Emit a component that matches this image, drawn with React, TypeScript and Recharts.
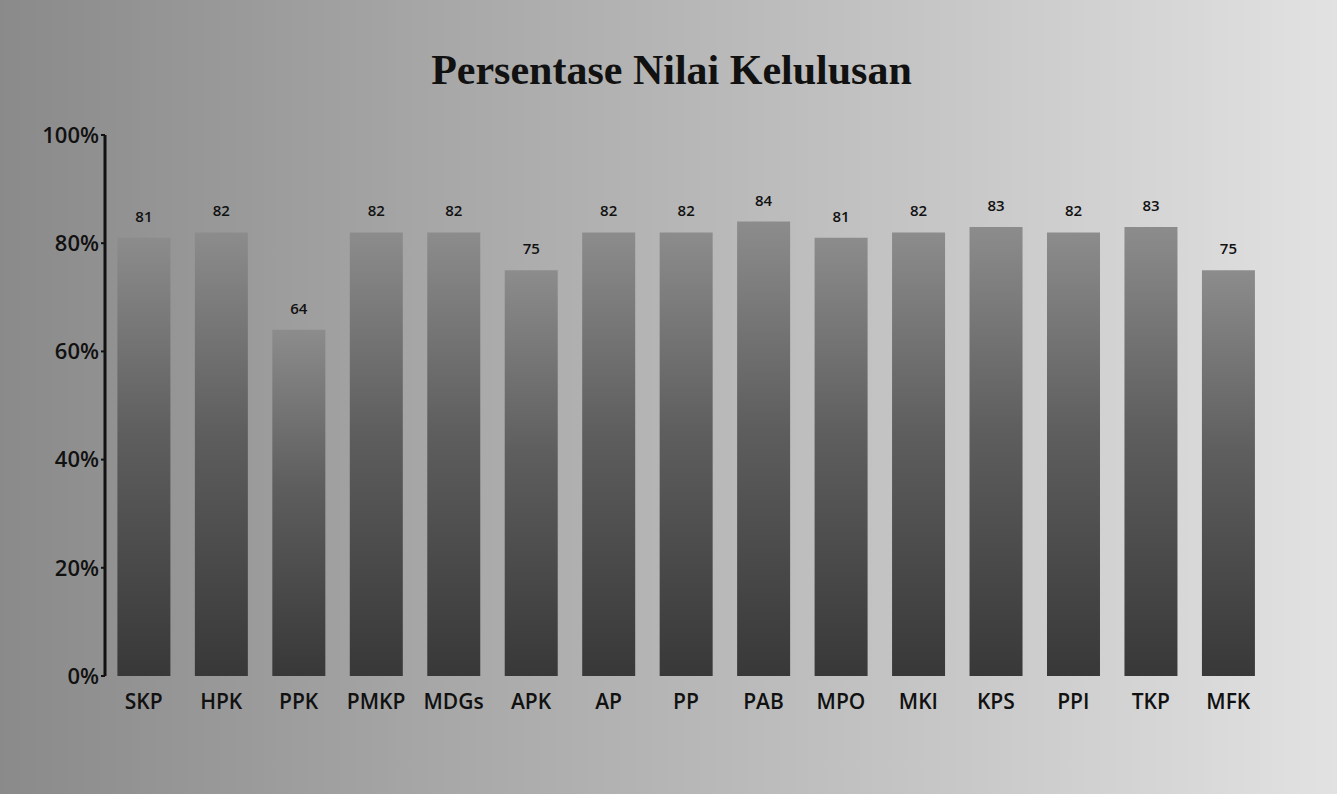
import { Bar, BarChart, LabelList, XAxis, YAxis } from "recharts";

const categories = ["SKP", "HPK", "PPK", "PMKP", "MDGs", "APK", "AP", "PP", "PAB", "MPO", "MKI", "KPS", "PPI", "TKP", "MFK"];
const values = [81, 82, 64, 82, 82, 75, 82, 82, 84, 81, 82, 83, 82, 83, 75];
const yTicks = [0, 20, 40, 60, 80, 100];

const data = categories.map((name, i) => ({ name, value: values[i] }));

const SANS = "'Open Sans', 'DejaVu Sans', sans-serif";

export default function App() {
  return (
    <div
      style={{
        position: "absolute",
        left: 0,
        top: 0,
        width: 1337,
        height: 794,
        background: "linear-gradient(90deg, #8a8a8a 0%, #a9a9a9 35%, #c6c6c6 70%, #e2e2e2 100%)",
        overflow: "hidden",
      }}
    >
      <div
        style={{
          position: "absolute",
          top: 46,
          left: 0,
          width: 1337,
          textAlign: "center",
          fontFamily: "'Liberation Serif', 'DejaVu Serif', serif",
          fontWeight: "bold",
          fontSize: 42,
          color: "#111",
          paddingLeft: 6,
          boxSizing: "border-box",
        }}
      >
        Persentase Nilai Kelulusan
      </div>
      <BarChart
        width={1337}
        height={794}
        data={data}
        margin={{ top: 135, right: 70, left: 30, bottom: 88 }}
        barCategoryGap="16%"
      >
        <defs>
          <linearGradient id="barFill" x1="0" y1="0" x2="0" y2="1">
            <stop offset="0%" stopColor="#8c8c8c" />
            <stop offset="45%" stopColor="#5e5e5e" />
            <stop offset="100%" stopColor="#383838" />
          </linearGradient>
        </defs>
        <YAxis
          type="number"
          domain={[0, 100]}
          ticks={yTicks}
          tickFormatter={(v) => `${v}%`}
          width={75}
          axisLine={{ stroke: "#111", strokeWidth: 3 }}
          tickLine={{ stroke: "#111", strokeWidth: 2 }}
          tickSize={4}
          tick={{ fontSize: 22, fill: "#111", fontFamily: SANS, fontWeight: 600 }}
        />
        <XAxis
          dataKey="name"
          axisLine={false}
          tickLine={false}
          interval={0}
          tick={{ fontSize: 21, fill: "#111", fontFamily: SANS, fontWeight: 600 }}
          tickMargin={12}
        />
        <Bar dataKey="value" fill="url(#barFill)" isAnimationActive={false}>
          <LabelList
            dataKey="value"
            position="top"
            offset={16}
            style={{ fontSize: 15, fill: "#111", fontFamily: SANS, fontWeight: 600 }}
          />
        </Bar>
      </BarChart>
    </div>
  );
}
